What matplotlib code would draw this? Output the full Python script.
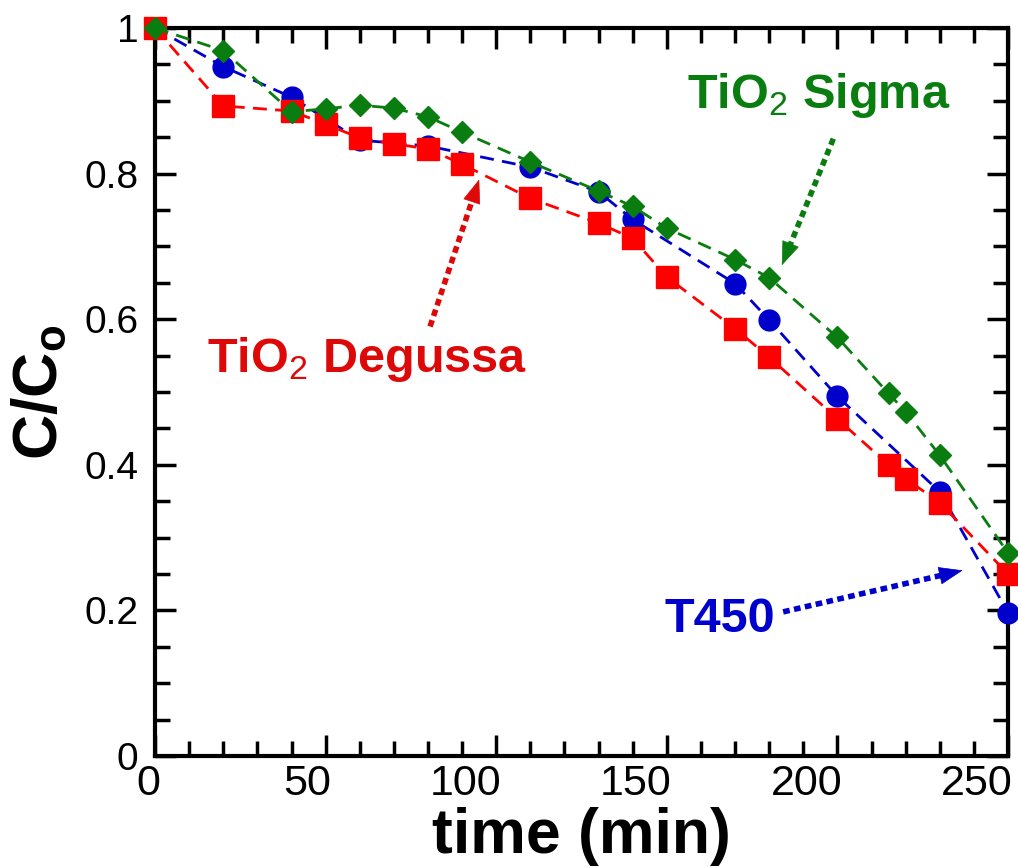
import matplotlib
matplotlib.use("Agg")
import matplotlib.pyplot as plt
from matplotlib.ticker import MultipleLocator
from matplotlib.transforms import ScaledTranslation

plt.rcParams['font.family'] = ['Liberation Sans', 'DejaVu Sans']
plt.rcParams['mathtext.fontset'] = 'custom'
plt.rcParams['mathtext.rm'] = 'Liberation Sans'
plt.rcParams['mathtext.it'] = 'Liberation Sans:italic'
plt.rcParams['mathtext.bf'] = 'Liberation Sans:bold'

# TiO2 Degussa
t_degussa = [0, 20, 40, 50, 60, 70, 80, 90, 110, 130, 140, 150, 170, 180, 200, 215, 220, 230, 250]
c_degussa = [1.0, 0.893, 0.886, 0.868, 0.849, 0.841, 0.834, 0.813, 0.766, 0.732, 0.711, 0.658,
             0.587, 0.548, 0.463, 0.400, 0.381, 0.348, 0.25]

# TiO2 Sigma
t_sigma = [0, 20, 40, 50, 60, 70, 80, 90, 110, 130, 140, 150, 170, 180, 200, 215, 220, 230, 250]
c_sigma = [1.0, 0.969, 0.885, 0.889, 0.894, 0.890, 0.878, 0.857, 0.816, 0.776, 0.755, 0.725,
           0.682, 0.657, 0.575, 0.498, 0.473, 0.413, 0.279]

# T450
t_t450 = [0, 20, 40, 60, 80, 110, 130, 140, 170, 180, 200, 230, 250]
c_t450 = [1.0, 0.947, 0.905, 0.846, 0.838, 0.809, 0.775, 0.737, 0.649, 0.599, 0.494, 0.363, 0.197]

RED = '#ff0000'
RED_TXT = '#dd0808'
BLUE = '#0000cc'
GREEN = '#0a7d10'

fig = plt.figure(figsize=(10.18, 8.68), dpi=100)
ax = fig.add_axes([0.1523, 0.129, 0.8379, 0.8387])

dash = (0, (5, 3))
ax.plot(t_t450, c_t450, color=BLUE, lw=2, ls=dash, marker='o', ms=15,
        mec=BLUE, mfc=BLUE, zorder=3)
ax.plot(t_degussa, c_degussa, color=RED, lw=2, ls=dash, marker='s', ms=15.5,
        mec=RED, mfc=RED, zorder=4)
ax.plot(t_sigma, c_sigma, color=GREEN, lw=2, ls=dash, marker='D', ms=11.5,
        mec=GREEN, mfc=GREEN, zorder=5)

ax.set_xlim(0, 250)
ax.set_ylim(0, 1)
ax.xaxis.set_major_locator(MultipleLocator(50))
ax.xaxis.set_minor_locator(MultipleLocator(10))
ax.yaxis.set_minor_locator(MultipleLocator(0.05))
ax.set_yticks([0, 0.2, 0.4, 0.6, 0.8, 1.0])
ax.set_yticklabels(['0', '0.2', '0.4', '0.6', '0.8', '1'])

for s in ax.spines.values():
    s.set_linewidth(3)
ax.tick_params(which='both', direction='in', top=True, right=True, width=2.5)
ax.tick_params(which='major', length=15)
ax.tick_params(which='minor', length=11)
ax.tick_params(axis='x', labelsize=31, pad=6)
ax.tick_params(axis='y', labelsize=28, pad=12)

# x tick labels sit right-aligned just past their ticks
shift = ScaledTranslation(5 / 100, 0, fig.dpi_scale_trans)
for lab in ax.get_xticklabels():
    lab.set_horizontalalignment('right')
    lab.set_transform(lab.get_transform() + shift)

ax.set_xlabel('time (min)', fontsize=45, fontweight='bold', labelpad=2)
ax.set_ylabel(r'C/C$_{\mathbf{o}}$', fontsize=45, fontweight='bold', labelpad=10)


def label_arrow(start, tip, color):
    # dotted shaft stops a little short of the tip, head drawn solid
    end = (tip[0] - (tip[0] - start[0]) * 0.08, tip[1] - (tip[1] - start[1]) * 0.08)
    ax.plot([start[0], end[0]], [start[1], end[1]], color=color, lw=4,
            ls=(0, (1.2, 0.8)), dash_capstyle='butt', zorder=6)
    back = (tip[0] - (tip[0] - start[0]) * 0.12, tip[1] - (tip[1] - start[1]) * 0.12)
    ax.annotate('', xy=tip, xytext=back,
                arrowprops=dict(arrowstyle='-|>,head_length=0.8,head_width=0.3',
                                mutation_scale=20, color=color, lw=0.5,
                                shrinkA=0, shrinkB=0),
                zorder=6)


ax.text(194.5, 0.890, r'TiO$_{\mathrm{2}}$ Sigma', color=GREEN, fontsize=35,
        fontweight='bold', ha='center', va='baseline')
label_arrow((198.8, 0.848), (183.7, 0.674), GREEN)

ax.text(62.1, 0.528, r'TiO$_{\mathit{2}}$ Degussa', color=RED_TXT, fontsize=35,
        fontweight='bold', ha='center', va='baseline')
label_arrow((80.6, 0.590), (95.0, 0.792), RED_TXT)

ax.text(181.7, 0.171, 'T450', color=BLUE, fontsize=35, fontweight='bold',
        ha='right', va='baseline')
label_arrow((184.1, 0.198), (236.7, 0.255), BLUE)

for art in ax.lines:
    art.set_clip_on(False)

fig.savefig('out.png', dpi=100)
